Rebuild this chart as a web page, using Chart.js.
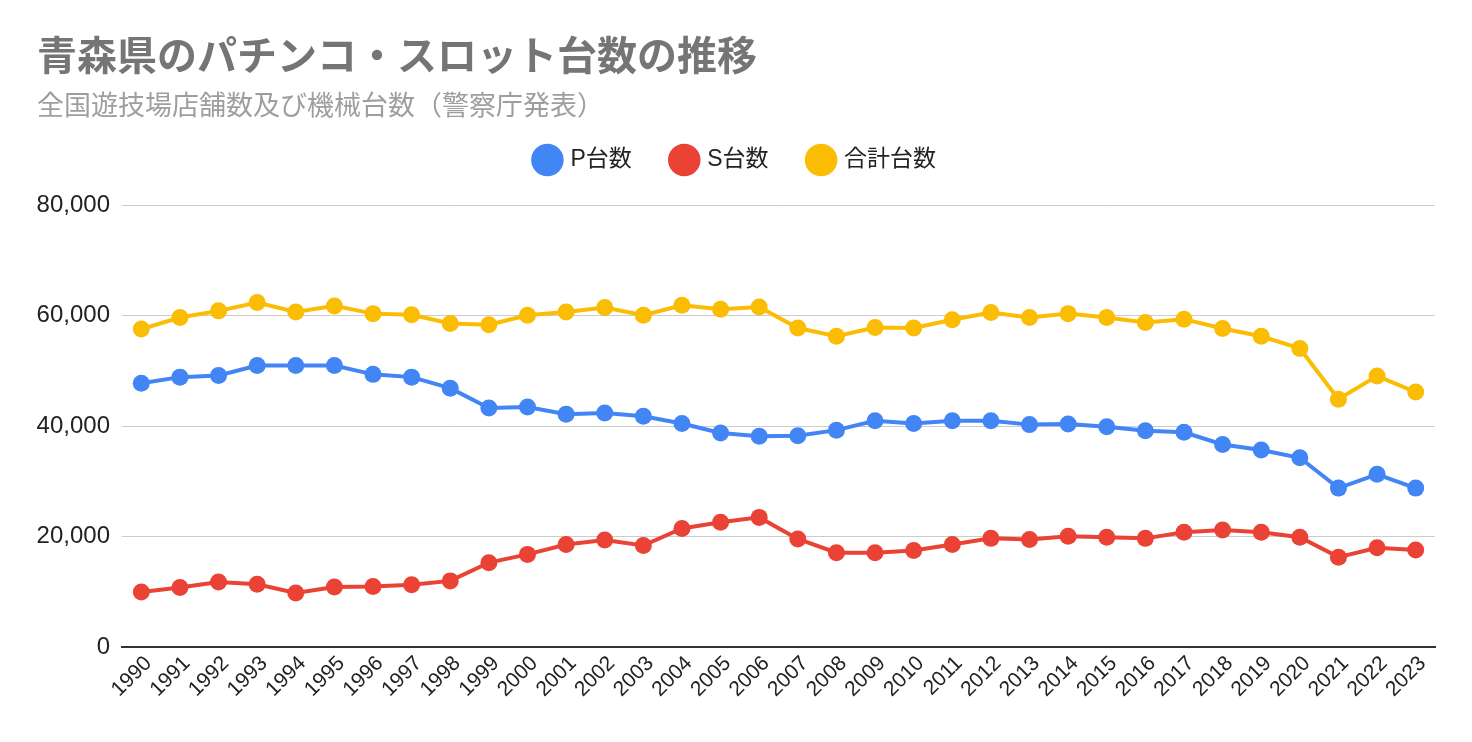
<!DOCTYPE html>
<html>
<head>
<meta charset="utf-8">
<script src="https://cdn.jsdelivr.net/npm/chart.js@4/dist/chart.umd.min.js"></script>
<style>
  html, body { margin: 0; padding: 0; background: #fff; }
  #wrap { width: 1472px; height: 742px; position: relative; }
</style>
</head>
<body>
<div id="wrap"><canvas id="chart"></canvas></div>
<script>
// 年度
const years = ['1990','1991','1992','1993','1994','1995','1996','1997','1998','1999',
  '2000','2001','2002','2003','2004','2005','2006','2007','2008','2009',
  '2010','2011','2012','2013','2014','2015','2016','2017','2018','2019',
  '2020','2021','2022','2023'];

// P台数
const pDaisu = [47800, 48900, 49200, 51000, 51000, 51000, 49400, 48900, 46900, 43300,
  43500, 42200, 42400, 41800, 40500, 38800, 38200, 38300, 39300, 41000,
  40500, 41000, 41000, 40300, 40400, 39900, 39200, 38900, 36700, 35700,
  34300, 28800, 31300, 28800];

// S台数
const sDaisu = [10000, 10800, 11800, 11400, 9800, 10900, 11000, 11300, 12000, 15300,
  16800, 18600, 19400, 18400, 21500, 22600, 23500, 19600, 17100, 17100,
  17500, 18600, 19700, 19500, 20100, 19900, 19700, 20800, 21200, 20800,
  19900, 16300, 18000, 17600];

// 合計台数
const goukei = [57600, 59700, 60900, 62400, 60700, 61800, 60400, 60200, 58600, 58400,
  60100, 60700, 61500, 60100, 61900, 61200, 61600, 57800, 56300, 57900,
  57800, 59300, 60600, 59700, 60400, 59700, 58800, 59400, 57700, 56300,
  54100, 44900, 49100, 46200];

const FONT = '"Liberation Sans", Arial, "Noto Sans CJK JP", sans-serif';
const TITLE_FONT = 'Roboto, "Noto Sans CJK JP", sans-serif';

function ds(label, data, color) {
  return {
    label: label,
    data: data,
    borderColor: color,
    backgroundColor: color,
    borderWidth: 4,
    pointRadius: 8.5,
    pointHoverRadius: 8.5,
    pointBorderWidth: 0,
    tension: 0
  };
}

// 凡例の下に余白を足す
const legendGap = {
  id: 'legendGap',
  beforeInit(chart) {
    const fit = chart.legend.fit;
    chart.legend.fit = function () {
      fit.bind(chart.legend)();
      this.height += 24;
    };
  }
};

const ctx = document.getElementById('chart').getContext('2d');
new Chart(ctx, {
  type: 'line',
  data: {
    labels: years,
    datasets: [
      ds('P台数', pDaisu, '#4285F4'),
      ds('S台数', sDaisu, '#EA4335'),
      ds('合計台数', goukei, '#FBBC04')
    ]
  },
  plugins: [legendGap],
  options: {
    responsive: true,
    maintainAspectRatio: false,
    animation: false,
    layout: { padding: { left: 37, right: 37, top: 36, bottom: 36 } },
    plugins: {
      title: {
        display: true,
        text: '青森県のパチンコ・スロット台数の推移',
        align: 'start',
        color: '#757575',
        font: { family: TITLE_FONT, size: 40, weight: 'bold' },
        padding: { top: 0, bottom: 8 }
      },
      subtitle: {
        display: true,
        text: '全国遊技場店舗数及び機械台数（警察庁発表）',
        align: 'start',
        color: '#9e9e9e',
        font: { family: TITLE_FONT, size: 27 },
        padding: { top: 0, bottom: -17 }
      },
      legend: {
        position: 'top',
        align: 'center',
        labels: {
          usePointStyle: true,
          pointStyle: 'circle',
          boxWidth: 24,
          boxHeight: 24,
          padding: 41,
          color: '#222',
          font: { family: FONT, size: 23 }
        }
      },
      tooltip: { enabled: false }
    },
    scales: {
      x: {
        offset: true,
        grid: { display: false, drawTicks: false },
        border: { display: true, color: '#333', width: 2 },
        ticks: {
          minRotation: 45,
          maxRotation: 45,
          autoSkip: false,
          padding: 4,
          labelOffset: 7,
          color: '#222',
          font: { family: FONT, size: 21 }
        }
      },
      y: {
        min: 0,
        max: 80000,
        afterFit: (scale) => { scale.width = 85; },
        grid: {
          color: (c) => c.tick && c.tick.value === 0 ? '#333' : '#cccccc',
          drawTicks: false
        },
        border: { display: false },
        ticks: {
          stepSize: 20000,
          padding: 12,
          color: '#222',
          font: { family: FONT, size: 24 }
        }
      }
    }
  }
});
</script>
</body>
</html>
